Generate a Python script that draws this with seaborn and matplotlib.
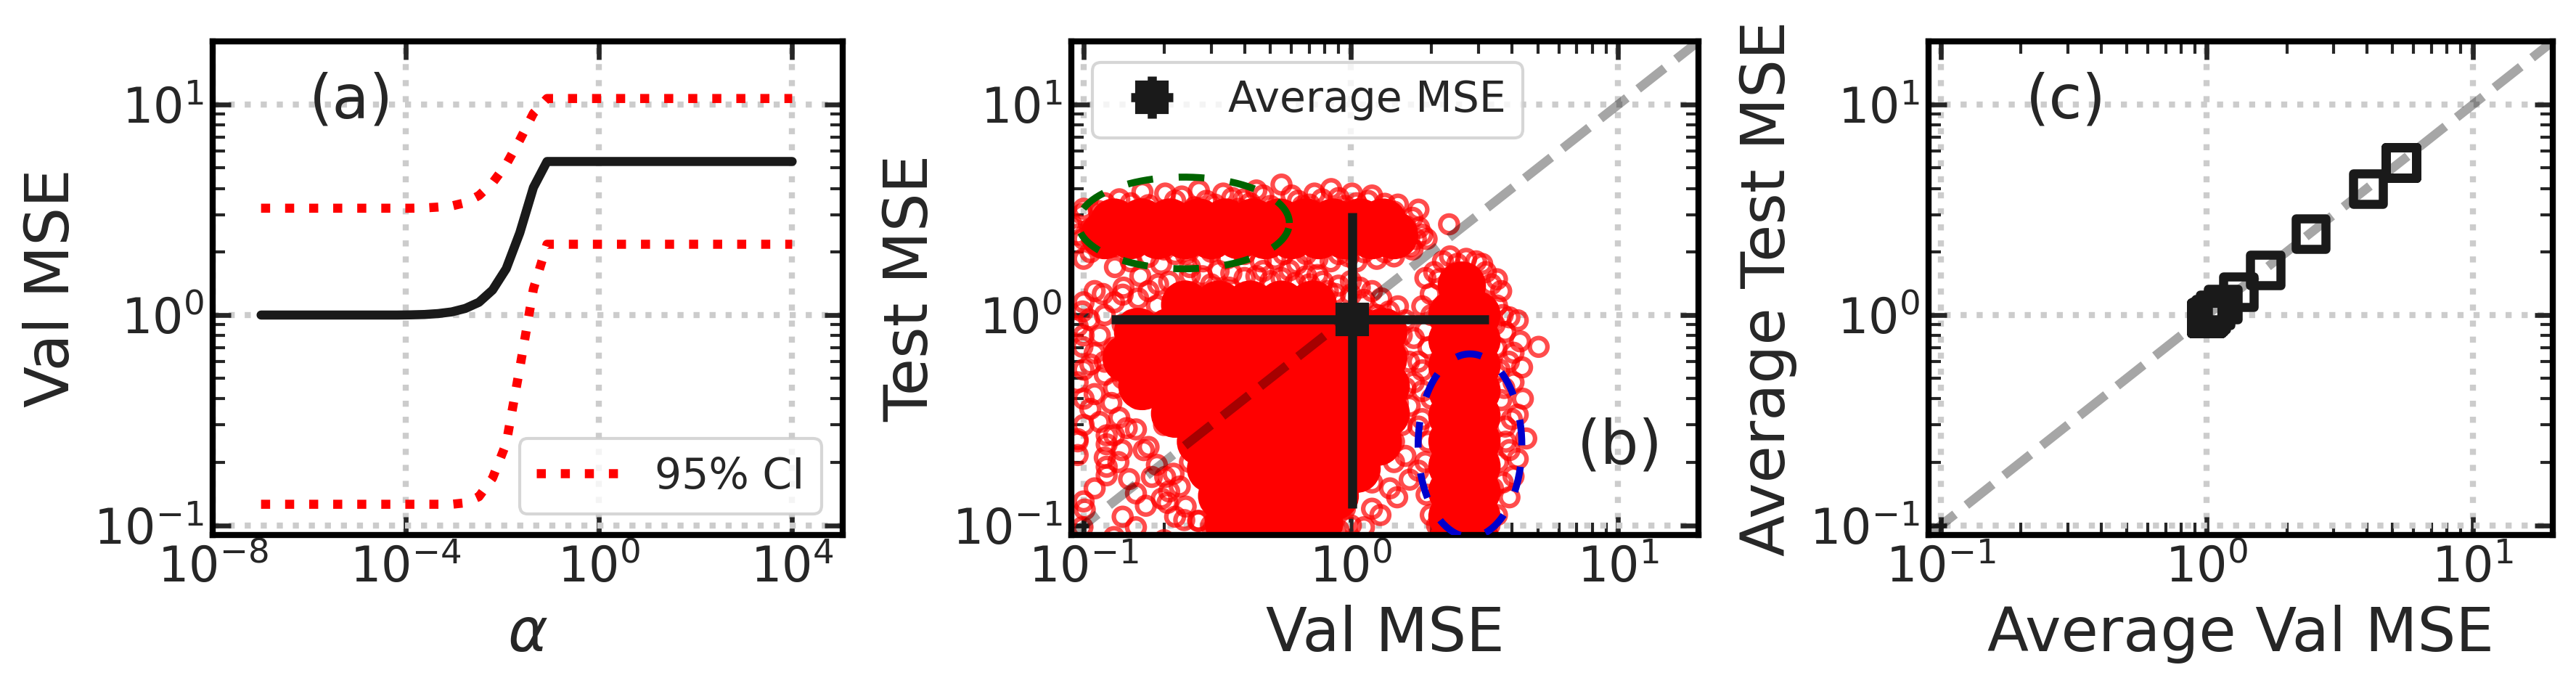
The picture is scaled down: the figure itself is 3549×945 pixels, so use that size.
import numpy as np
import matplotlib
matplotlib.use('Agg')
import matplotlib.pyplot as plt
from matplotlib.ticker import NullLocator
import seaborn as sns

# ---- panel (a): ridge path, 40 log-spaced alphas ----
alpha_exp = [-7.000, -6.718, -6.436, -6.154, -5.872, -5.590, -5.308, -5.026,
             -4.744, -4.462, -4.179, -3.897, -3.615, -3.333, -3.051, -2.769,
             -2.487, -2.205, -1.923, -1.641, -1.359, -1.077, -0.795, -0.513,
             -0.231, 0.051, 0.333, 0.615, 0.897, 1.179, 1.462, 1.744,
             2.026, 2.308, 2.590, 2.872, 3.154, 3.436, 3.718, 4.000]
val_mean = [1.0] * 11 + [1.002, 1.006, 1.016, 1.035, 1.075, 1.15, 1.315, 1.66, 2.46, 4.04] + [5.37] * 19
test_mean = [0.97] * 11 + [0.972, 0.976, 0.985, 1.01, 1.056, 1.128, 1.286, 1.64, 2.43, 3.98] + [5.30] * 19
ci_hi = [3.22] * 12 + [3.23, 3.26, 3.30, 3.42, 3.70, 4.25, 5.2, 6.8, 9.1] + [10.7] * 19
ci_lo = [0.126] * 15 + [0.128, 0.137, 0.168, 0.245, 0.56, 1.33] + [2.17] * 19

# ---- panel (b): individual runs (val MSE, test MSE) ----
# dense cores, where the circles overlap into solid red
band_core = [(0.12, 2.4), (0.15, 2.4), (0.19, 2.4), (0.24, 2.4), (0.30, 2.4), (0.38, 2.4),
             (0.48, 2.4), (0.60, 2.4), (0.76, 2.4), (0.95, 2.4), (1.2, 2.4), (1.45, 2.4),
             (0.13, 2.75), (0.165, 2.75), (0.21, 2.75), (0.27, 2.75), (0.34, 2.75),
             (0.43, 2.75), (0.54, 2.75), (0.68, 2.75), (0.86, 2.75), (1.08, 2.75),
             (1.32, 2.75)]
blob_core = [(0.24, 1.12), (0.32, 1.12), (0.42, 1.12), (0.55, 1.12), (0.72, 1.12),
             (0.16, 0.83), (0.21, 0.83), (0.275, 0.83), (0.36, 0.83), (0.48, 0.83),
             (0.63, 0.83), (0.83, 0.83), (1.10, 0.83), (1.32, 0.83),
             (0.145, 0.62), (0.19, 0.62), (0.25, 0.62), (0.33, 0.62), (0.44, 0.62),
             (0.58, 0.62), (0.76, 0.62), (1.0, 0.62), (1.32, 0.62),
             (0.166, 0.46), (0.22, 0.46), (0.29, 0.46), (0.38, 0.46), (0.50, 0.46),
             (0.66, 0.46), (0.87, 0.46), (1.15, 0.46), (1.35, 0.46),
             (0.22, 0.34), (0.29, 0.34), (0.38, 0.34), (0.50, 0.34), (0.66, 0.34),
             (0.87, 0.34), (1.15, 0.34), (1.35, 0.34),
             (0.275, 0.25), (0.36, 0.25), (0.48, 0.25), (0.63, 0.25), (0.83, 0.25),
             (1.10, 0.25), (1.26, 0.25),
             (0.30, 0.186), (0.40, 0.186), (0.525, 0.186), (0.69, 0.186), (0.91, 0.186),
             (1.05, 0.186),
             (0.33, 0.138), (0.44, 0.138), (0.575, 0.138), (0.76, 0.138), (0.87, 0.138),
             (0.35, 0.102), (0.46, 0.102), (0.60, 0.102), (0.76, 0.102),
             (0.36, 0.076), (0.50, 0.076), (0.69, 0.076)]
col_core = [(2.6, 1.38), (2.4, 1.0), (2.95, 1.0), (2.4, 0.759), (2.95, 0.759),
            (2.4, 0.575), (2.95, 0.575), (2.4, 0.437), (2.95, 0.437), (2.4, 0.331),
            (2.95, 0.331), (2.4, 0.251), (2.95, 0.251), (2.4, 0.191), (2.95, 0.191),
            (2.4, 0.145), (2.95, 0.145), (2.4, 0.110), (2.95, 0.110), (2.4, 0.083),
            (2.95, 0.083)]

# loose circles around the cores
band_pts = [(0.166, 3.85), (0.202, 3.78), (0.233, 3.66), (0.288, 3.49), (0.333, 3.78),
            (0.398, 3.55), (0.55, 4.17), (0.634, 3.49), (0.844, 3.97), (1.01, 3.78),
            (1.16, 3.49), (1.34, 3.38), (1.79, 3.17), (1.85, 2.41), (1.92, 2.30),
            (2.33, 2.70), (1.49, 2.12), (1.12, 1.99), (0.84, 1.80), (0.63, 1.75),
            (0.46, 1.80), (0.345, 1.86), (0.25, 1.69), (0.175, 1.89), (0.131, 1.69),
            (0.106, 1.99), (0.095, 2.41), (0.099, 3.02), (0.114, 3.12), (0.136, 3.55),
            (0.122, 2.65), (0.106, 2.57), (0.131, 2.12), (0.146, 3.02), (0.175, 3.33),
            (0.443, 3.91), (0.731, 3.78), (1.39, 2.88), (1.60, 2.65), (1.66, 2.12),
            (1.34, 1.99), (0.241, 1.95), (0.195, 1.75), (0.26, 3.25), (0.5, 3.3),
            (0.95, 3.3), (1.25, 3.1), (1.7, 2.9), (1.75, 2.3), (0.3, 2.0), (0.56, 1.95),
            (0.98, 1.9), (0.38, 3.2), (0.7, 3.35), (1.5, 3.35), (0.11, 2.25),
            (0.12, 2.85), (0.2, 2.05), (0.09, 2.7), (0.15, 3.4), (0.22, 3.5), (0.27, 3.9),
            (0.31, 3.35), (0.36, 3.6), (0.42, 3.4), (0.47, 3.7), (0.6, 3.7), (0.66, 3.3),
            (0.78, 3.55), (0.9, 3.6), (1.05, 3.4), (1.2, 3.7), (1.45, 3.1), (1.55, 2.5),
            (1.8, 2.6), (1.7, 2.05), (1.45, 1.9), (1.25, 1.85), (1.05, 1.8), (0.9, 1.95),
            (0.75, 1.85), (0.68, 1.95), (0.52, 1.85), (0.4, 1.95), (0.28, 1.8),
            (0.22, 1.95), (0.15, 1.8), (0.1, 1.85), (0.1, 2.3), (0.1, 3.2), (0.12, 3.4)]
blob_pts = [(0.095, 0.257), (0.095, 0.216), (0.101, 0.119), (0.122, 0.19), (0.122, 0.173),
            (0.139, 0.228), (0.168, 0.228), (0.171, 0.124), (0.196, 0.134), (0.206, 0.128),
            (0.229, 0.153), (0.157, 0.142), (0.148, 0.166), (0.202, 0.170), (0.238, 0.106),
            (0.27, 0.105), (0.335, 0.112), (0.394, 0.109), (0.157, 0.098), (0.099, 0.098),
            (0.122, 0.243), (0.130, 0.268),
            (0.163, 1.53), (0.209, 1.44), (0.278, 1.53), (0.357, 1.58), (0.443, 1.53),
            (0.589, 1.63), (0.68, 1.53), (0.785, 1.44), (0.873, 1.26), (1.12, 1.18),
            (1.39, 1.04), (1.60, 0.944), (1.72, 0.778), (1.79, 0.60), (1.72, 0.479),
            (1.66, 0.37), (1.85, 0.435), (1.79, 0.295), (1.60, 0.214), (1.66, 0.165),
            (1.49, 0.136), (1.29, 0.112), (1.12, 0.098), (0.118, 1.26), (0.11, 1.30),
            (0.141, 1.35), (0.175, 1.30), (0.099, 1.04), (0.095, 0.885), (0.099, 0.706),
            (0.106, 0.582), (0.095, 0.479), (0.11, 0.421), (0.127, 0.382), (0.106, 0.358),
            (0.136, 0.325), (0.157, 0.286), (0.095, 0.251), (0.122, 0.268), (0.175, 0.236),
            (0.188, 0.194), (0.217, 0.176), (0.209, 0.145), (0.241, 0.123), (0.268, 0.105),
            (0.357, 0.095), (0.475, 0.089), (0.634, 0.098), (0.844, 0.105), (0.188, 1.11),
            (0.151, 0.944), (0.13, 1.15), (0.115, 0.8), (0.12, 0.6), (0.14, 0.5),
            (0.16, 0.4), (0.13, 0.45), (0.2, 0.3), (0.25, 0.2), (0.3, 0.14), (0.45, 0.1),
            (0.55, 0.095), (0.75, 0.1), (0.95, 0.12), (1.2, 0.16), (1.45, 0.2),
            (1.55, 0.3), (1.6, 0.45), (1.65, 0.6), (1.55, 0.8), (1.5, 1.1), (1.2, 1.3),
            (1.0, 1.45), (0.5, 1.45), (0.3, 1.4), (0.23, 1.25), (0.16, 1.2), (0.35, 1.35),
            (0.7, 1.4), (0.9, 1.38), (1.3, 1.2), (0.2, 0.085), (0.4, 0.08), (0.6, 0.085),
            (0.13, 0.088), (0.1, 1.15), (0.105, 0.95), (0.1, 0.8), (0.11, 0.66),
            (0.1, 0.55), (0.12, 0.52), (0.1, 0.4), (0.115, 0.31), (0.1, 0.3), (0.12, 0.21),
            (0.11, 0.15), (0.1, 0.13), (0.14, 0.11), (0.135, 0.2), (0.145, 0.29),
            (0.13, 0.7), (0.14, 0.9), (0.12, 1.0), (0.14, 1.25), (0.19, 1.4), (0.25, 1.55),
            (0.32, 1.62), (0.4, 1.5), (0.47, 1.62), (0.55, 1.5), (0.62, 1.42), (0.75, 1.55),
            (0.82, 1.3), (1.0, 1.25), (1.08, 1.35), (1.25, 1.0), (1.4, 0.9), (1.5, 0.65),
            (1.45, 0.5), (1.5, 0.38), (1.45, 0.25), (1.4, 0.15), (1.2, 0.12), (1.0, 0.1),
            (0.9, 0.095), (0.7, 0.092), (0.3, 0.1), (0.22, 0.11), (0.18, 0.17)]
col_pts = [(2.21, 1.80), (2.94, 1.80), (3.52, 1.48), (3.65, 1.30), (1.99, 1.26),
           (3.92, 0.975), (4.21, 0.944), (3.78, 0.83), (5.04, 0.706), (4.06, 0.662),
           (4.37, 0.564), (4.06, 0.479), (4.21, 0.336), (4.53, 0.259), (3.92, 0.228),
           (4.21, 0.207), (4.06, 0.171), (3.92, 0.136), (3.52, 0.112), (3.05, 0.095),
           (2.29, 0.095), (1.99, 0.112), (1.92, 0.14), (1.85, 0.546), (1.79, 0.182),
           (3.65, 0.394), (3.78, 0.295), (3.52, 1.11), (2.14, 1.48), (2.0, 1.0),
           (1.95, 0.7), (2.0, 0.4), (1.95, 0.25), (3.5, 0.7), (3.6, 0.55), (3.55, 0.2),
           (3.4, 0.15), (2.5, 1.75), (3.2, 1.6), (2.05, 1.6), (3.45, 0.9), (2.6, 0.085),
           (1.9, 1.5), (1.85, 1.1), (1.9, 0.85), (1.85, 0.32), (1.9, 0.2), (2.1, 0.1),
           (2.7, 0.092), (3.3, 0.1), (3.7, 0.16), (3.8, 0.25), (3.75, 0.45), (3.9, 0.6),
           (3.7, 1.0), (3.35, 1.4), (2.7, 1.85), (2.35, 1.9), (3.1, 1.75), (4.4, 0.4),
           (4.0, 0.32), (4.3, 0.75)]

# average over runs with 95% range
avg_val, avg_test = 1.01, 0.95
avg_val_range = [0.127, 3.28]
avg_test_range = [0.121, 3.07]

# highlighted groups (centre, half-width in decades x / y)
green_ell = [0.237, 2.74, 0.395, 0.218]
blue_ell = [2.79, 0.24, 0.194, 0.435]

# ---- style ----
sns.set_style('whitegrid')
plt.rcParams.update({
    'font.family': ['DejaVu Sans'],
    'axes.edgecolor': 'black',
    'axes.linewidth': 2,
    'grid.color': '#cccccc',
    'grid.linestyle': ':',
    'grid.linewidth': 2,
    'xtick.direction': 'in', 'ytick.direction': 'in',
    'xtick.bottom': True, 'ytick.left': True,
    'xtick.top': True, 'ytick.right': True,
    'xtick.major.size': 6, 'ytick.major.size': 6,
    'xtick.minor.size': 4, 'ytick.minor.size': 4,
    'xtick.major.width': 1.6, 'ytick.major.width': 1.6,
    'xtick.minor.width': 1.0, 'ytick.minor.width': 1.0,
    'xtick.major.pad': 3, 'ytick.major.pad': 3,
    'xtick.labelsize': 16, 'ytick.labelsize': 16,
    'axes.labelsize': 20, 'legend.fontsize': 14,
})

fig = plt.figure(figsize=(3549 / 300, 945 / 300), dpi=300)
ax_a = fig.add_axes([0.0826, 0.2201, 0.2446, 0.7196])
ax_b = fig.add_axes([0.4159, 0.2201, 0.2435, 0.7196])
ax_c = fig.add_axes([0.7487, 0.2201, 0.2423, 0.7196])

dark = '#1a1a1a'

# (a)
alpha = 10.0 ** np.array(alpha_exp)
sns.lineplot(x=alpha, y=val_mean, ax=ax_a, color=dark, lw=3, solid_capstyle='round', zorder=3)
sns.lineplot(x=alpha, y=ci_hi, ax=ax_a, color='red', lw=3, ls=':', label='95% CI', zorder=3)
sns.lineplot(x=alpha, y=ci_lo, ax=ax_a, color='red', lw=3, ls=':', zorder=3)
ax_a.set(xscale='log', yscale='log')
ax_a.set_xlim(1e-8, 10 ** 5.05)
ax_a.set_ylim(0.09, 20)
ax_a.set_xticks([1e-8, 1e-4, 1, 1e4])
ax_a.xaxis.set_minor_locator(NullLocator())
ax_a.set_xlabel(r'$\alpha$')
ax_a.set_ylabel('Val MSE')
ax_a.legend(loc='lower right')
ax_a.text(0.22, 0.88, '(a)', transform=ax_a.transAxes, ha='center', va='center', fontsize=20)

# (b)
core = np.array(band_core + blob_core + col_core)
pts = np.array(band_pts + blob_pts + col_pts)
ax_b.set(xscale='log', yscale='log')
sns.scatterplot(x=core[:, 0], y=core[:, 1], ax=ax_b, s=256, color='red',
                edgecolor='none', linewidth=0, zorder=2)
sns.scatterplot(x=pts[:, 0], y=pts[:, 1], ax=ax_b, s=34, marker='o', facecolor='none',
                edgecolor='red', linewidth=1.5, alpha=0.7, zorder=2.2)
ax_b.axline((0.1, 0.1), (10, 10), color='k', alpha=0.35, lw=3, ls='--', zorder=3)
ax_b.errorbar([avg_val], [avg_test],
              xerr=[[avg_val - avg_val_range[0]], [avg_val_range[1] - avg_val]],
              yerr=[[avg_test - avg_test_range[0]], [avg_test_range[1] - avg_test]],
              fmt='s', color=dark, ms=10, elinewidth=3, capsize=0,
              label='Average MSE', zorder=5)
t = np.linspace(0, 2 * np.pi, 200)
for (cx, cy, wx, wy), col in [(green_ell, 'darkgreen'), (blue_ell, 'mediumblue')]:
    ax_b.plot(10 ** (np.log10(cx) + wx * np.cos(t)), 10 ** (np.log10(cy) + wy * np.sin(t)),
              color=col, lw=2.3, ls=(0, (3.7, 3.7)), zorder=4)
ax_b.set_xlim(0.09, 20)
ax_b.set_ylim(0.09, 20)
ax_b.set_xlabel('Val MSE')
ax_b.set_ylabel('Test MSE')
ax_b.legend(loc='upper left')
ax_b.text(0.875, 0.18, '(b)', transform=ax_b.transAxes, ha='center', va='center', fontsize=20)

# (c)
ax_c.set(xscale='log', yscale='log')
ax_c.axline((0.1, 0.1), (10, 10), color='k', alpha=0.35, lw=3, ls='--', zorder=2)
sns.scatterplot(x=val_mean, y=test_mean, ax=ax_c, marker='s', s=100, facecolor='none',
                edgecolor=dark, linewidth=3, zorder=3)
ax_c.set_xlim(0.09, 20)
ax_c.set_ylim(0.09, 20)
ax_c.set_xlabel('Average Val MSE')
ax_c.set_ylabel('Average Test MSE')
ax_c.text(0.22, 0.88, '(c)', transform=ax_c.transAxes, ha='center', va='center', fontsize=20)

for ax in (ax_a, ax_b, ax_c):
    ax.grid(True, which='major')
    ax.grid(False, which='minor')
    for sp in ax.spines.values():
        sp.set_color('black')
        sp.set_linewidth(2)
    ax.tick_params(which='both', colors='#262626')

fig.savefig('out.png', dpi=300)
